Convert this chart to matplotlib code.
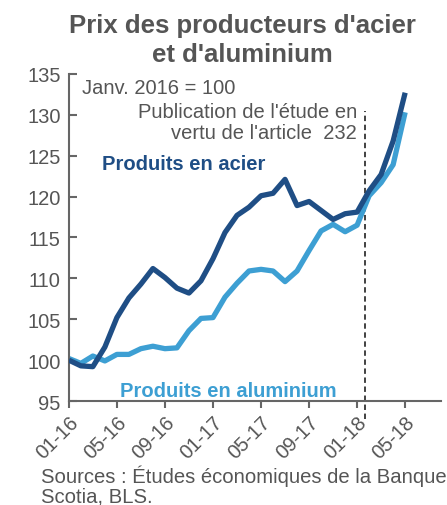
import matplotlib
matplotlib.use('Agg')
import matplotlib.pyplot as plt
import numpy as np

plt.rcParams['font.family'] = ['Liberation Sans', 'DejaVu Sans']

# indices mensuels, janv. 2016 = 100 (01-16 .. 05-18)
acier = [100.0, 99.3, 99.2, 101.6, 105.2, 107.6, 109.3, 111.2, 110.1, 108.8,
         108.2, 109.7, 112.4, 115.6, 117.7, 118.7, 120.1, 120.4, 122.1, 118.9,
         119.4, 118.3, 117.2, 117.9, 118.1, 120.7, 122.7, 126.8, 132.7]
aluminium = [100.2, 99.6, 100.5, 99.9, 100.7, 100.7, 101.4, 101.7, 101.4, 101.5,
             103.6, 105.1, 105.2, 107.7, 109.4, 110.9, 111.1, 110.9, 109.6, 110.9,
             113.4, 115.8, 116.6, 115.7, 116.5, 120.1, 121.7, 123.9, 130.3]
tick_labels = ['01-16', '05-16', '09-16', '01-17', '05-17', '09-17', '01-18', '05-18']
etude_232 = 24.67  # mi-février 2018

c_acier = '#1f4e85'
c_alu = '#3d9fd3'
gris = '#555555'

mois = np.arange(len(acier))

fig = plt.figure(figsize=(4.47, 5.06), dpi=100)
ax = fig.add_axes([0.154, 0.2055, 0.833, 0.6465])

ax.axvline(etude_232, ymin=-0.055, ymax=0.887, color='#333333', lw=1.3,
           ls=(0, (3, 2)), clip_on=False, zorder=1)
ax.plot(mois, aluminium, color=c_alu, lw=3.8, solid_capstyle='butt', zorder=2)
ax.plot(mois, acier, color=c_acier, lw=3.8, solid_capstyle='butt', zorder=3)

ax.set_xlim(0, 31)
ax.set_ylim(95, 135)
ax.set_yticks(np.arange(95, 136, 5))
ax.set_xticks(np.arange(0, 29, 4))
ax.set_xticklabels(tick_labels, rotation=45, ha='right', rotation_mode='anchor')

for s in ['top', 'right']:
    ax.spines[s].set_visible(False)
for s in ['left', 'bottom']:
    ax.spines[s].set_color('#666666')
    ax.spines[s].set_linewidth(1.5)
ax.tick_params(axis='y', direction='in', length=6, width=1.5, color='#666666',
               labelsize=14.5, labelcolor=gris, pad=6)
ax.tick_params(axis='x', direction='out', length=5, width=1.5, color='#666666',
               labelsize=14.5, labelcolor=gris, pad=3)

fig.text(0.543, 1 - 62 / 506, "Prix des producteurs d'acier\net d'aluminium", ha='center',
         va='baseline', fontsize=18.5, fontweight='bold', color=gris, linespacing=1.25)

ax.text(1.1, 132.65, 'Janv. 2016 = 100', fontsize=14.5, color=gris, va='baseline')
ax.text(24.0, 127.15, "Publication de l'étude en\nvertu de l'article  232", fontsize=14.5,
        color=gris, ha='right', va='baseline', linespacing=1.15)
ax.text(2.75, 123.4, 'Produits en acier', fontsize=14.5, fontweight='bold',
        color=c_acier, va='baseline')
ax.text(4.25, 95.6, 'Produits en aluminium', fontsize=14.5, fontweight='bold',
        color=c_alu, va='baseline')

fig.text(0.092, 1 - 503 / 506, 'Sources : Études économiques de la Banque\nScotia, BLS.',
         fontsize=14.6, color=gris, va='baseline', linespacing=1.05)

fig.savefig('out.png', dpi=100)
